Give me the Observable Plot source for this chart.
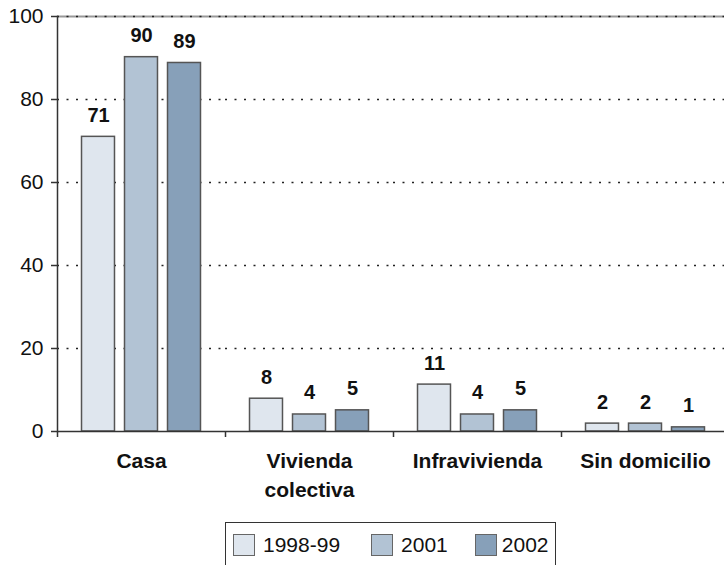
<!DOCTYPE html>
<html>
<head>
<meta charset="utf-8">
<script src="https://cdn.jsdelivr.net/npm/d3@7"></script>
<script src="https://cdn.jsdelivr.net/npm/@observablehq/plot@0.6"></script>
<style>
  html, body { margin: 0; padding: 0; background: #fff; }
  body { width: 724px; height: 565px; overflow: hidden; font-family: "Liberation Sans", Arial, sans-serif; }
  #legend {
    margin-left: 225px; margin-top: 7px; width: 331px; height: 46px; box-sizing: border-box;
    border: 1px solid #333; display: flex; align-items: center; padding-left: 7px;
    font-size: 21px; color: #111;
  }
  .item { display: flex; align-items: center; }
  .item:nth-child(1) { margin-right: 31px; }
  .item:nth-child(2) { margin-right: 27px; }
  .sw { width: 20px; height: 20px; border: 1px solid #666; margin-right: 8px; }
  .item:nth-child(3) .sw { margin-right: 5px; }
</style>
</head>
<body>
<div id="chart"></div>
<div id="legend"></div>
<script>
const categories = ["Casa", "Vivienda colectiva", "Infravivienda", "Sin domicilio"];
const categoryLabels = ["Casa", "Vivienda\ncolectiva", "Infravivienda", "Sin domicilio"];
const series = ["1998-99", "2001", "2002"];
const values1998 = [71.0, 7.9, 11.3, 1.9];
const values2001 = [90.2, 4.1, 4.1, 1.9];
const values2002 = [88.8, 5.1, 5.1, 1.0];
const yTicks = [0, 20, 40, 60, 80, 100];
const gridTicks = [20, 40, 60, 80, 100];
const colors = ["#dfe6ee", "#b2c3d4", "#87a0b9"];

const seriesValues = [values1998, values2001, values2002];
const data = [];
categories.forEach((c, i) => {
  series.forEach((s, j) => data.push({cat: c, series: s, value: seriesValues[j][i]}));
});
const fmt = d3.format(".0f");
const labelOf = new Map(categories.map((c, i) => [c, categoryLabels[i]]));

const chart = Plot.plot({
  width: 724,
  height: 515,
  marginLeft: 57,
  marginRight: 0,
  marginTop: 16,
  marginBottom: 84,
  style: {fontFamily: "'Liberation Sans', Arial, sans-serif", color: "#111", background: "#fff", overflow: "visible"},
  fx: {domain: categories, range: [57, 729], padding: 0, round: false, label: null},
  x: {domain: series, paddingInner: 0.233, paddingOuter: 0.57, round: false, axis: null},
  y: {domain: [0, 100], label: null},
  color: {domain: series, range: colors},
  marks: [
    Plot.ruleY([100], {stroke: "#999", strokeWidth: 2}),
    Plot.ruleY(gridTicks, {stroke: "#222", strokeWidth: 1.5, strokeDasharray: "2,7.5"}),
    Plot.barY(data, {fx: "cat", x: "series", y: "value", fill: "series", stroke: "#555", strokeWidth: 1.5}),
    Plot.text(data, {fx: "cat", x: "series", y: "value", text: d => fmt(d.value),
      lineAnchor: "bottom", dy: -15, fontWeight: "bold", fontSize: 20, fill: "#111"}),
    Plot.ruleY([0], {stroke: "#333", strokeWidth: 1.5}),
    Plot.frame({anchor: "left", stroke: "#333", strokeWidth: 1.5, facet: "super"}),
    Plot.axisY({ticks: yTicks, tickSize: 6, tickPadding: 8, fontSize: 21, stroke: "#333", strokeWidth: 1.5, fill: "#111", label: null}),
    Plot.axisFx({anchor: "bottom", tickSize: 6, tickFormat: null, dx: -84, stroke: "#333", strokeWidth: 1.5, label: null}),
    Plot.axisFx({anchor: "bottom", tickSize: 0, tickPadding: 16, fontSize: 21, fontWeight: "bold",
      lineHeight: 1.38, tickFormat: d => labelOf.get(d), label: null, fill: "#111"})
  ]
});
document.getElementById("chart").appendChild(chart);

const legend = document.getElementById("legend");
series.forEach((s, j) => {
  const it = document.createElement("div");
  it.className = "item";
  const sw = document.createElement("div");
  sw.className = "sw";
  sw.style.background = colors[j];
  const t = document.createElement("span");
  t.textContent = s;
  it.appendChild(sw);
  it.appendChild(t);
  legend.appendChild(it);
});
</script>
</body>
</html>
